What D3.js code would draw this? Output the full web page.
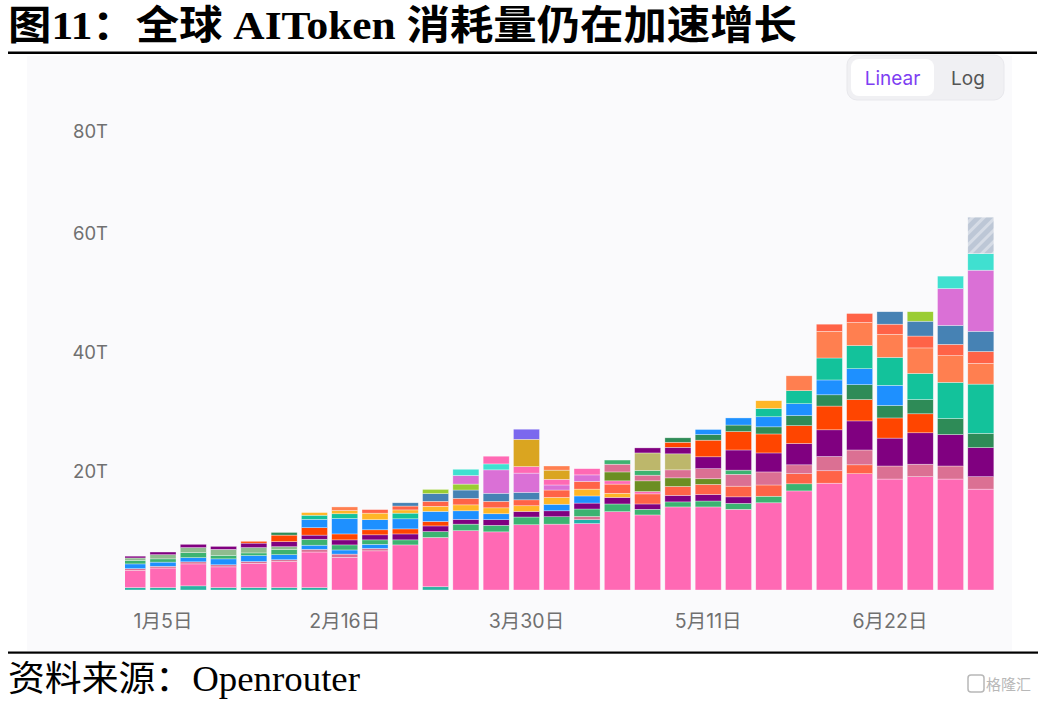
<!DOCTYPE html>
<html><head><meta charset="utf-8">
<script src="https://cdn.jsdelivr.net/npm/d3@7"></script>
<style>
html,body{margin:0;padding:0;background:#fff;}
svg{display:block;}
</style></head>
<body>
<svg id="c" width="1044" height="702"></svg>
<script>
// ---------------- DATA (values in trillions of tokens per week) ----------------
const weeks = ["2024-12-29","2025-01-05","2025-01-12","2025-01-19","2025-01-26","2025-02-02","2025-02-09","2025-02-16","2025-02-23","2025-03-02","2025-03-09","2025-03-16","2025-03-23","2025-03-30","2025-04-06","2025-04-13","2025-04-20","2025-04-27","2025-05-04","2025-05-11","2025-05-18","2025-05-25","2025-06-01","2025-06-08","2025-06-15","2025-06-22","2025-06-29","2025-07-06","2025-07-13"];
const xTickWeeks = ["2025-01-05","2025-02-16","2025-03-30","2025-05-11","2025-06-22"];
const xTickLabels = ["1月5日","2月16日","3月30日","5月11日","6月22日"];
const yTicks = [20,40,60,80];
const yTickLabels = ["20T","40T","60T","80T"];

const tealBase   = [0.4,0.4,0.7,0.4,0.4,0.4,0.4,0,0,0,0.55,0,0,0,0,0,0,0,0,0,0,0,0,0,0,0,0,0,0];
const pinkMain   = [2.9,3.3,3.7,3.5,4.1,4.4,6.0,5.5,6.6,7.6,8.3,10.0,9.8,11.0,11.1,11.2,13.2,12.65,14.0,14.0,13.6,14.7,16.7,18.0,19.6,18.7,19.1,18.7,17.0];
const tealLow    = [0,0,0,0,0,0,0,0,0,0,0,0,0,0,0,0.65,0,0,0,0,0,0,0,0,0,0,0,0,0];
const pvrLow     = [0.3,0.3,0.35,0.35,0.3,0.3,0.45,0.55,0.4,0,0,0,0,0,0,0.55,0,0,0,0,0,0,0,0,0,0,0,0,0];
const blueLow    = [0.8,0.7,0.7,1.0,1.0,0.85,0.7,0.7,0.7,0,0,0,0,0,0,0,0,0,0,0,0,0,0,0,0,0,0,0,0];
const green      = [0.6,0.55,0.85,0.6,0.45,0.85,1.0,0.85,0.75,0.85,1.0,1.1,1.1,1.3,1.25,1.25,1.3,0.95,0.85,1.0,1.0,1.1,1.2,0,0,0,0,0,0];
const purpleLow  = [0,0,0,0,0,0,0,0,0,0,0,0,0,0,0,0,1.1,0.9,1.1,1.1,1.1,0,0,0,0,0,0,0,0];
const goldLow    = [0,0,0,0,0,0,0,0,0,0,0,0,0,0,0,0,0.7,0,0,0,0,0,0,0,0,0,0,0,0];
const tomatoLow  = [0,0,0,0,0,0,0,0,0,0,0,0,0,0,0,0,1.55,1.7,1.5,1.7,1.8,1.9,1.7,2.1,1.5,0,0,0,0];
const hotpinkLow = [0,0,0,0,0,0,0,0,0,0,0,0,0,0,0,0,0.55,0.4,0,0,0,0,0,0,0,0,0,0,0];
const olivedrab  = [0,0,0,0,0,0,0,0,0,0,0,0,0,0,0,0,1.5,1.8,1.45,0.95,0,0,0,0,0,0,0,0,0];
const pvr        = [0,0,0,0,0,0,0,0,0,0,0,0,0,0,0,0,1.3,0.95,1.35,1.7,2.0,2.2,1.5,2.4,2.5,2.2,2.1,2.2,2.1];
const greenMid   = [0,0,0,0,0,0,0,0,0,0,0,0,0,0,0,0,0.7,0.8,0,0,0.7,0,0,0,0,0,0,0,0];
const darkkhaki  = [0,0,0,0,0,0,0,0,0,0,0,0,0,0,0,0,0,2.95,2.7,0,0,0,0,0,0,0,0,0,0];
const sage       = [0.4,0.7,0.85,1.0,0.9,0.5,0,0,0,0,0,0,0,0,0,0,0,0,0,0,0,0,0,0,0,0,0,0,0];
const purple     = [0.3,0.45,0.55,0.5,0.75,0.85,0.7,0.85,0.85,1.0,0.95,0.8,0.95,0.95,1.0,1.0,0,0.85,1.1,2.0,3.4,3.2,3.6,4.5,4.9,4.7,5.3,5.3,4.9];
const orangered  = [0,0,0,0,0.3,1.1,1.25,1.0,0.85,0.85,0.75,0,0,0,0,0,0,0,0.85,2.8,3.1,3.2,3.0,4.0,3.6,3.4,3.2,0,0];
const seagreen   = [0,0,0,0,0,0.45,0,0,0,0,0,0,0,0,0,0,0,0,0.75,0.95,1.1,1.2,1.7,1.9,2.5,2.1,2.4,2.7,2.4];
const blue       = [0,0,0,0,0,0,1.4,2.6,1.7,1.7,1.7,1.45,1.0,0,1.1,1.2,0,0,0,0.85,1.2,1.7,2.0,2.5,2.7,3.4,0,0,0];
const jade       = [0,0,0,0,0,0,0.7,0.8,0,0.95,0,0,0,0,0,0,0,0,0,0,0,1.4,2.2,3.7,3.9,4.7,4.4,6.1,8.3];
const gold       = [0,0,0,0,0,0,0.45,0.55,1.1,0.55,0.85,1.0,1.0,0.95,1.15,1.15,0,0,0,0,0,1.3,0,0,0,0,0,0,0];
const coral      = [0,0,0,0,0,0,0,0.6,0,0,0,0,0,0,0,0,0,0,0,0,0,0,2.5,4.5,3.9,3.9,4.3,4.5,3.5];
const tomato     = [0,0,0,0,0,0,0,0,0.6,0.65,0.85,1.1,1.1,1.0,1.25,1.3,0,0,0,0,0,0,0,1.2,1.5,1.7,2.0,1.9,2.0];
const steelblue  = [0,0,0,0,0,0,0,0,0,0.55,1.3,1.4,1.35,1.25,0,0,0,0,0,0,0,0,0,0,0,2.1,2.5,3.2,3.4];
const yellowgreen= [0,0,0,0,0,0,0,0,0,0,0.7,1.0,0,0,0,0,0,0,0,0,0,0,0,0,0,0,1.6,0,0];
const orchid     = [0,0,0,0,0,0,0,0,0,0,0,1.45,3.95,3.25,0.85,1.1,0,0,0,0,0,0,0,0,0,0,0,6.2,10.3];
const turquoise  = [0,0,0,0,0,0,0,0,0,0,0,1.05,1.0,0,0,0,0,0,0,0,0,0,0,0,0,0,0,2.1,2.8];
const hotpinkTop = [0,0,0,0,0,0,0,0,0,0,0,0,1.3,1.1,0.95,1.05,0,0,0,0,0,0,0,0,0,0,0,0,0];
const goldenrod  = [0,0,0,0,0,0,0,0,0,0,0,0,0,4.6,1.55,0,0,0,0,0,0,0,0,0,0,0,0,0,0];
const slateblue  = [0,0,0,0,0,0,0,0,0,0,0,0,0,1.7,0,0,0,0,0,0,0,0,0,0,0,0,0,0,0];
const coralTop   = [0,0,0,0,0,0,0,0,0,0,0,0,0,0,0.7,0,0,0,0,0,0,0,0,0,0,0,0,0,0];
const projected  = [0,0,0,0,0,0,0,0,0,0,0,0,0,0,0,0,0,0,0,0,0,0,0,0,0,0,0,0,6.6];

// stacking order (bottom -> top)
const seriesList = [
  ["tealBase",tealBase],["pinkMain",pinkMain],["tealLow",tealLow],["pvrLow",pvrLow],["blueLow",blueLow],
  ["green",green],["purpleLow",purpleLow],["goldLow",goldLow],["tomatoLow",tomatoLow],["hotpinkLow",hotpinkLow],
  ["olivedrab",olivedrab],["pvr",pvr],["greenMid",greenMid],["darkkhaki",darkkhaki],["sage",sage],
  ["purple",purple],["orangered",orangered],["seagreen",seagreen],["blue",blue],["jade",jade],
  ["gold",gold],["coral",coral],["tomato",tomato],["steelblue",steelblue],["yellowgreen",yellowgreen],
  ["orchid",orchid],["turquoise",turquoise],["hotpinkTop",hotpinkTop],["goldenrod",goldenrod],["slateblue",slateblue],
  ["coralTop",coralTop],["projected",projected]
];

// ---------------- STYLE ----------------
const colors = {
  tealBase:"#2ab3a2", pinkMain:"#ff69b4", tealLow:"#20b2aa", pvrLow:"#db7093", blueLow:"#1e90ff",
  green:"#3cb371", purpleLow:"#800080", goldLow:"#ffb627", tomatoLow:"#ff6347", hotpinkLow:"#ff69b4",
  olivedrab:"#6b8e23", pvr:"#db7093", greenMid:"#3cb371", darkkhaki:"#bdb76b", sage:"#8fbc8f",
  purple:"#800080", orangered:"#ff4500", seagreen:"#2e8b57", blue:"#1e90ff", jade:"#13c29b",
  gold:"#ffb627", coral:"#ff7f50", tomato:"#ff6347", steelblue:"#4682b4", yellowgreen:"#9acd32",
  orchid:"#da70d6", turquoise:"#40e0d0", hotpinkTop:"#ff69b4", goldenrod:"#daa520", slateblue:"#7b68ee",
  coralTop:"#ff7f50", projected:"url(#hatch)"
};

const svg = d3.select("#c");
const defs = svg.append("defs");
const pat = defs.append("pattern").attr("id","hatch").attr("patternUnits","userSpaceOnUse")
  .attr("width",8).attr("height",8).attr("patternTransform","rotate(45)");
pat.append("rect").attr("width",8).attr("height",8).attr("fill","#bdc7d6");
pat.append("rect").attr("width",3).attr("height",8).attr("fill","#d6dce6");
defs.append("clipPath").attr("id","plotclip").append("rect")
  .attr("x",125).attr("y",0).attr("width",880).attr("height",600);

// title
svg.append("text").attr("x",8).attr("y",39)
  .attr("font-family","'Liberation Serif','Noto Sans CJK SC',serif").attr("font-weight","bold")
  .attr("font-size",40).attr("fill","#000").attr("textLength",789).attr("lengthAdjust","spacingAndGlyphs")
  .text("图11：全球 AIToken 消耗量仍在加速增长");
svg.append("rect").attr("x",8).attr("y",51.5).attr("width",1029).attr("height",2.5).attr("fill","#000");

// chart panel
svg.append("rect").attr("x",27).attr("y",56).attr("width",985).attr("height",595).attr("fill","#fafafc");

// toggle
svg.append("rect").attr("x",847).attr("y",55).attr("width",157).attr("height",45).attr("rx",10).attr("fill","#f0f0f3").attr("stroke","#e8e8ec");
svg.append("rect").attr("x",851).attr("y",59).attr("width",83).attr("height",37).attr("rx",8).attr("fill","#ffffff");
svg.append("text").attr("x",892.5).attr("y",85).attr("text-anchor","middle").attr("font-family","Inter, Roboto, sans-serif")
  .attr("font-size",19).attr("fill","#7e3ff2").text("Linear");
svg.append("text").attr("x",968).attr("y",85).attr("text-anchor","middle").attr("font-family","Inter, Roboto, sans-serif")
  .attr("font-size",19).attr("fill","#555").text("Log");

// scales
const x = d3.scaleBand().domain(weeks).range([117.55, 995.96]).paddingInner(0.14).paddingOuter(0.07);
const y = d3.scaleLinear().domain([0,60,80]).range([590,234,132]);

const table = weeks.map((w,i)=>{ const o={week:w}; seriesList.forEach(([k,v])=>o[k]=v[i]); return o; });
const stack = d3.stack().keys(seriesList.map(s=>s[0])).order(d3.stackOrderNone).offset(d3.stackOffsetNone);
const layers = stack(table);

const plot = svg.append("g").attr("clip-path","url(#plotclip)");
plot.selectAll("g.layer").data(layers).join("g").attr("class","layer")
  .attr("fill",d=>colors[d.key])
  .selectAll("rect").data(d=>d.filter(p=>p[1]-p[0]>0)).join("rect")
  .attr("x",d=>x(d.data.week)).attr("width",x.bandwidth())
  .attr("y",d=>y(d[1])).attr("height",d=>y(d[0])-y(d[1]))
  .attr("stroke","rgba(255,255,255,0.55)").attr("stroke-width",0.6);

// axes
const yAxis = d3.axisLeft(y).tickValues(yTicks).tickFormat((d,i)=>yTickLabels[i]).tickSize(0).tickPadding(0);
const ga = svg.append("g").attr("transform","translate(108,0)").call(yAxis);
ga.select(".domain").remove();
ga.selectAll("text").attr("font-family","Inter, Roboto, sans-serif").attr("font-size",18.5).attr("fill","#707070");

const xAxis = d3.axisBottom(x).tickValues(xTickWeeks).tickFormat((d,i)=>xTickLabels[i]).tickSize(0).tickPadding(0);
const gx = svg.append("g").attr("transform","translate(0,621)").call(xAxis);
gx.select(".domain").remove();
gx.selectAll("text").attr("y",0).attr("dy","0.35em")
  .attr("font-family","Inter, 'Noto Sans CJK SC', sans-serif").attr("font-size",19.5).attr("fill","#707070");

// footer
svg.append("rect").attr("x",8).attr("y",651.5).attr("width",1030).attr("height",2.2).attr("fill","#000");
svg.append("text").attr("x",8).attr("y",691)
  .attr("font-family","'Liberation Serif','Noto Sans CJK SC',serif").attr("font-size",35).attr("fill","#000")
  .attr("textLength",352).attr("lengthAdjust","spacingAndGlyphs")
  .text("资料来源：Openrouter");

// watermark
svg.append("rect").attr("x",968).attr("y",675).attr("width",16).attr("height",17).attr("rx",3)
  .attr("fill","none").attr("stroke","#b8b8b8").attr("stroke-width",1.5);
svg.append("text").attr("x",986).attr("y",690).attr("font-family","'Noto Sans CJK SC',sans-serif")
  .attr("font-size",15).attr("fill","#b8b8b8").text("格隆汇");
</script>
</body></html>
